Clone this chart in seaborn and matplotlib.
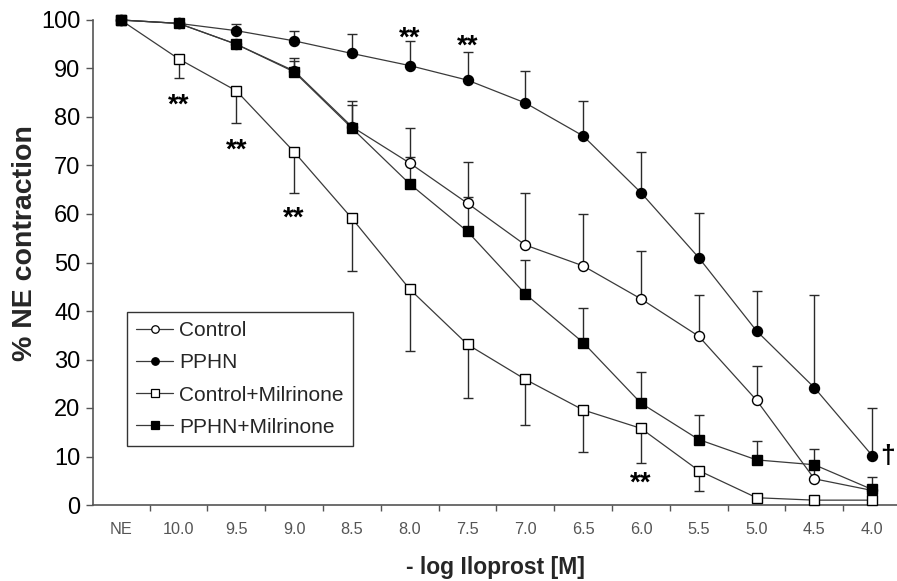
import numpy as np
import pandas as pd
import matplotlib
matplotlib.use("Agg")
import matplotlib.pyplot as plt
import seaborn as sns
from matplotlib.lines import Line2D

# ---------------- data ----------------
x_labels = ["NE", "10.0", "9.5", "9.0", "8.5", "8.0", "7.5", "7.0", "6.5", "6.0", "5.5", "5.0", "4.5", "4.0"]

control = [100, 99.3, 95.0, 89.5, 78.0, 70.5, 62.2, 53.6, 49.3, 42.5, 34.8, 21.6, 5.4, 3.0]
control_err = [0, 0, 0, 2.6, 5.4, 7.3, 8.5, 10.8, 10.7, 9.9, 8.5, 7.1, 2.0, 0]

pphn = [100, 99.3, 97.8, 95.7, 93.1, 90.6, 87.6, 82.9, 76.1, 64.4, 51.0, 35.9, 24.2, 10.2]
pphn_err = [0, 0.5, 1.4, 2.1, 4.0, 5.0, 5.7, 6.6, 7.3, 8.4, 9.3, 8.2, 19.1, 9.7]

control_mil = [100, 92.0, 85.4, 72.8, 59.1, 44.5, 33.1, 25.9, 19.6, 15.8, 7.1, 1.5, 1.0, 1.0]
control_mil_err = [0, 4.0, 6.7, 8.5, 10.9, 12.7, 11.1, 9.5, 8.7, 7.2, 4.2, 0, 0, 0]

pphn_mil = [100, 99.3, 95.0, 89.3, 77.7, 66.2, 56.4, 43.5, 33.5, 21.0, 13.5, 9.3, 8.3, 3.2]
pphn_mil_err = [0, 0, 0, 2.3, 4.8, 5.6, 7.2, 7.0, 7.1, 6.5, 5.0, 3.9, 3.2, 2.6]

sig_x = [1, 2, 3, 5, 6, 9]
sig_y = [84.3, 74.9, 61.0, 98.1, 96.4, 6.2]
dagger_x = 13.27
dagger_y = 10.3

y_ticks = [0, 10, 20, 30, 40, 50, 60, 70, 80, 90, 100]

# ---------------- style ----------------
sns.set_style("ticks")
plt.rcParams["font.family"] = ["Liberation Sans", "DejaVu Sans"]

LINE = "#3a3a3a"
AX = "#555555"

fig = plt.figure(figsize=(8.97, 5.81), dpi=100)
ax = fig.add_axes([93 / 897, 76 / 581, 804 / 897, 485 / 581])

xs = np.arange(len(x_labels))
series = [
    ("Control", control, control_err, "up", "o", "white", 7.2),
    ("PPHN", pphn, pphn_err, "up", "o", "black", 7.2),
    ("Control+Milrinone", control_mil, control_mil_err, "down", "s", "white", 7.6),
    ("PPHN+Milrinone", pphn_mil, pphn_mil_err, "up", "s", "black", 7.6),
]

handles = []
for name, vals, err, direction, mk, fc, ms in series:
    df = pd.DataFrame({"x": xs, "y": vals})
    err = np.array(err)
    zeros = np.zeros_like(err)
    yerr = [zeros, err] if direction == "up" else [err, zeros]
    ax.errorbar(xs, vals, yerr=yerr, fmt="none", ecolor="#2a2a2a", elinewidth=1.0,
                capsize=3.5, capthick=1.0, zorder=2, clip_on=False)
    sns.lineplot(data=df, x="x", y="y", ax=ax, color=LINE, linewidth=0.9,
                 marker=mk, markersize=ms, markerfacecolor=fc, markeredgecolor="black",
                 markeredgewidth=1.0, zorder=3, clip_on=False, legend=False)
    handles.append(Line2D([], [], color=LINE, linewidth=0.9, marker=mk, markersize=ms * 0.75,
                          markerfacecolor=fc, markeredgecolor="black", markeredgewidth=0.9,
                          label=name))

# significance marks
for sx, sy in zip(sig_x, sig_y):
    ax.annotate("**", (sx, sy), xytext=(0, -0.58 * 20), textcoords="offset points",
                ha="center", va="baseline", fontsize=20, fontweight="bold", color="black")
ax.annotate("\u2020", (dagger_x, dagger_y), xytext=(0, -0.3 * 19), textcoords="offset points",
            ha="center", va="baseline", fontsize=19, fontweight="bold", color="black",
            annotation_clip=False)

# axes
ax.set_xlim(-0.48, 13.43)
ax.set_ylim(0, 100)
ax.set_xticks(xs)
ax.set_xticklabels(x_labels)
ax.set_xticks(np.arange(0.5, 13.5, 1.0), minor=True)
ax.tick_params(axis="x", which="major", length=0, pad=12, labelsize=11.7, labelcolor="#555555")
ax.tick_params(axis="x", which="minor", length=4, width=1.0, color=AX)
ax.set_yticks(y_ticks)
ax.tick_params(axis="y", which="major", length=5, width=1.0, color=AX, labelsize=17,
               labelcolor="black", pad=4)

for s in ["top", "right"]:
    ax.spines[s].set_visible(False)
for s in ["left", "bottom"]:
    ax.spines[s].set_color(AX)
    ax.spines[s].set_linewidth(1.2)

ax.set_xlabel("- log Iloprost [M]", fontsize=16.5, fontweight="bold", labelpad=14)
ax.set_ylabel("% NE contraction", fontsize=20.5, fontweight="bold")
ax.yaxis.set_label_coords(-0.068, 0.541)

leg = ax.legend(handles=handles, loc="upper left", bbox_to_anchor=(0.0423, 0.398),
                borderaxespad=0, fontsize=15, frameon=True, fancybox=False,
                edgecolor="#333333", framealpha=1, handlelength=1.75, handletextpad=0.3,
                labelspacing=0.63, borderpad=0.45)
leg.get_frame().set_linewidth(1.0)

fig.savefig("out.png", dpi=100)
